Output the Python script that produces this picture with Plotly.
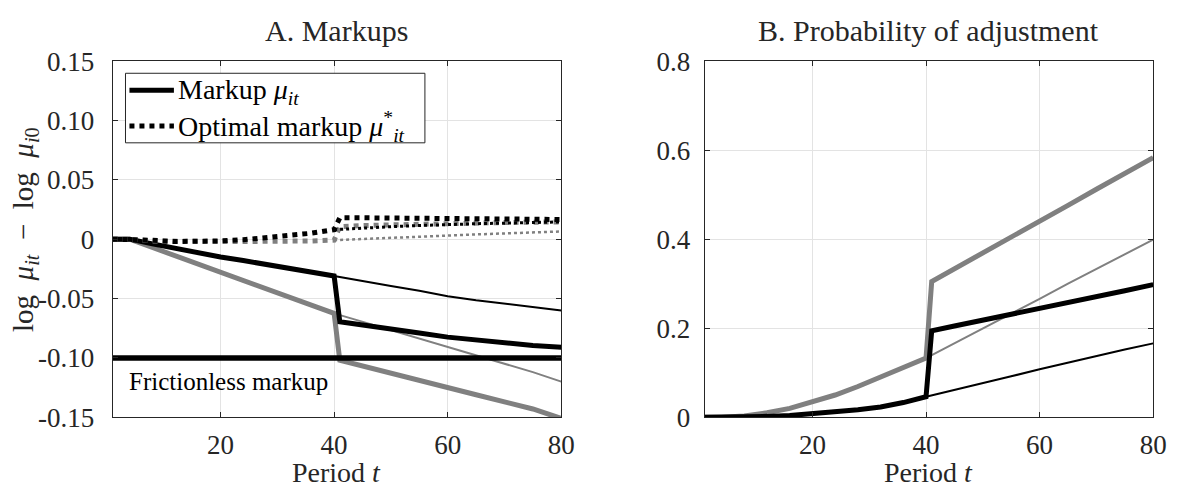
import plotly.graph_objects as go

# ---------------- data ----------------
t_pre = [1, 4, 8, 12, 16, 20, 24, 28, 32, 36, 40]
t_cont = [40, 45, 50, 55, 60, 65, 70, 75, 80]
t_jump = [41, 45, 50, 55, 60, 65, 70, 75, 80]
t_all = [1, 80]

# Panel A: markups (log mu_it - log mu_i0)
frictionless = [-0.10, -0.10]
mk_black_pre = [0, 0, -0.004, -0.008, -0.0115, -0.015, -0.018, -0.021, -0.0245, -0.028, -0.031]
mk_black_thin_post = [-0.031, -0.0355, -0.0395, -0.0435, -0.048, -0.0515, -0.0545, -0.0575, -0.060]
mk_black_thick_post = [-0.0695, -0.0725, -0.0755, -0.079, -0.0825, -0.085, -0.0875, -0.0895, -0.091]
mk_gray_pre = [0, 0, -0.007, -0.0139, -0.0208, -0.0278, -0.0347, -0.0417, -0.0486, -0.0556, -0.0625]
mk_gray_thin_post = [-0.0625, -0.0695, -0.0765, -0.0835, -0.0905, -0.0975, -0.1045, -0.112, -0.120]
mk_gray_thick_post = [-0.102, -0.107, -0.113, -0.119, -0.1256, -0.131, -0.137, -0.143, -0.151]

opt_black_pre = [0, 0, -0.001, -0.002, -0.002, -0.0015, -0.0005, 0.001, 0.003, 0.005, 0.008]
opt_black_thin_post = [0.008, 0.0095, 0.0105, 0.0115, 0.0125, 0.013, 0.0135, 0.014, 0.0145]
opt_black_thick_post = [0.018, 0.018, 0.018, 0.0178, 0.0175, 0.0172, 0.017, 0.0168, 0.0165]
opt_gray_pre = [0, 0, -0.0015, -0.002, -0.002, -0.002, -0.002, -0.002, -0.0018, -0.0015, -0.0008]
opt_gray_thin_post = [-0.0008, 0.0, 0.001, 0.002, 0.003, 0.004, 0.0048, 0.0057, 0.0065]
opt_gray_thick_post = [0.0105, 0.0115, 0.0122, 0.0128, 0.0133, 0.0137, 0.014, 0.0143, 0.0145]

# Panel B: probability of adjustment
pa_black_pre = [0, 0, 0.0005, 0.002, 0.004, 0.008, 0.012, 0.017, 0.023, 0.033, 0.046]
pa_black_thin_post = [0.046, 0.061, 0.076, 0.092, 0.108, 0.123, 0.138, 0.152, 0.166]
pa_black_thick_post = [0.194, 0.205, 0.218, 0.231, 0.243, 0.256, 0.270, 0.284, 0.298]
pa_gray_pre = [0, 0, 0.003, 0.010, 0.020, 0.034, 0.050, 0.069, 0.090, 0.111, 0.133]
pa_gray_thin_post = [0.133, 0.166, 0.200, 0.233, 0.266, 0.300, 0.333, 0.366, 0.399]
pa_gray_thick_post = [0.305, 0.333, 0.369, 0.405, 0.440, 0.476, 0.512, 0.548, 0.583]

yA_ticks = [-0.15, -0.10, -0.05, 0, 0.05, 0.10, 0.15]
yA_text = ["-0.15", "-0.10", "-0.05", "0", "0.05", "0.10", "0.15"]
yB_ticks = [0, 0.2, 0.4, 0.6, 0.8]
yB_text = ["0", "0.2", "0.4", "0.6", "0.8"]
x_ticks = [20, 40, 60, 80]
x_text = ["20", "40", "60", "80"]

legend_labels = ["Markup <i>μ</i><sub><i>it</i></sub>",
                 "Optimal markup <i>μ</i><sup>*</sup><sub><i>it</i></sub>"]

# ---------------- style ----------------
BLACK = "#000000"
GRAY = "#808080"
AX = "#262626"
GRID = "#e3e3e3"
FONT = "Liberation Serif"
W = 1183
H = 499

fig = go.Figure()

def line(x, y, color, width, dash="solid", xa="x", ya="y"):
    fig.add_trace(go.Scatter(x=x, y=y, mode="lines", xaxis=xa, yaxis=ya,
                             line=dict(color=color, width=width, dash=dash),
                             showlegend=False, hoverinfo="skip"))

# Panel A
line(t_cont, mk_gray_thin_post, GRAY, 2)
line(t_pre + t_jump, mk_gray_pre + mk_gray_thick_post, GRAY, 5)
line(t_cont, mk_black_thin_post, BLACK, 2)
line(t_pre + t_jump, mk_black_pre + mk_black_thick_post, BLACK, 5)
line(t_all, frictionless, BLACK, 5.5)
line(t_cont, opt_gray_thin_post, GRAY, 2.5, "dot")
line(t_pre + t_jump, opt_gray_pre + opt_gray_thick_post, GRAY, 5, "dot")
line(t_cont, opt_black_thin_post, BLACK, 3, "dot")
line(t_pre + t_jump, opt_black_pre + opt_black_thick_post, BLACK, 5, "dot")

# Panel B
line(t_cont, pa_gray_thin_post, GRAY, 2, xa="x2", ya="y2")
line(t_pre + t_jump, pa_gray_pre + pa_gray_thick_post, GRAY, 5, xa="x2", ya="y2")
line(t_cont, pa_black_thin_post, BLACK, 2, xa="x2", ya="y2")
line(t_pre + t_jump, pa_black_pre + pa_black_thick_post, BLACK, 5, xa="x2", ya="y2")

def px_x(p):
    return p / W

def px_y(p):
    return 1 - p / H

ydom = [px_y(428), px_y(49)]
axis_common = dict(showline=True, linecolor=AX, linewidth=1, mirror="ticks", ticks="inside",
                   ticklen=5, tickcolor=AX, showgrid=True, gridcolor=GRID, gridwidth=1,
                   zeroline=False, tickfont=dict(family=FONT, size=27, color=AX))

fig.update_layout(
    width=W, height=H,
    margin=dict(l=0, r=0, t=0, b=0),
    paper_bgcolor="white", plot_bgcolor="white",
    font=dict(family=FONT, color=AX),
    xaxis=dict(domain=[px_x(114), px_x(568)], range=[1, 80], tickvals=x_ticks, ticktext=x_text,
               anchor="y", ticklabelstandoff=3, **axis_common),
    yaxis=dict(domain=ydom, range=[-0.15, 0.15], tickvals=yA_ticks, ticktext=yA_text,
               anchor="x", ticklabelstandoff=12, **axis_common),
    xaxis2=dict(domain=[px_x(713), px_x(1167)], range=[1, 80], tickvals=x_ticks, ticktext=x_text,
                anchor="y2", ticklabelstandoff=3, **axis_common),
    yaxis2=dict(domain=ydom, range=[0, 0.8], tickvals=yB_ticks, ticktext=yB_text,
                anchor="x2", ticklabelstandoff=8, **axis_common),
    showlegend=False,
)

# Legend box (upper-left corner of panel A)
fig.add_shape(type="rect", xref="paper", yref="paper",
              x0=px_x(127), x1=px_x(430), y0=px_y(136), y1=px_y(62),
              line=dict(color=AX, width=1), fillcolor="white", layer="above")
for i, (lab, dash) in enumerate(zip(legend_labels, ["solid", "dot"])):
    yc = [80, 118][i]
    fig.add_shape(type="line", xref="paper", yref="paper",
                  x0=px_x(131), x1=px_x(176), y0=px_y(yc), y1=px_y(yc),
                  line=dict(color=BLACK, width=5, dash=dash), layer="above")
    fig.add_annotation(text=lab, x=px_x(178), y=px_y(yc + 1), xref="paper", yref="paper",
                       xanchor="left", yanchor="middle", showarrow=False,
                       font=dict(family=FONT, size=28, color=BLACK))

ann = [
    dict(text="A. Markups", x=px_x(341), y=px_y(16), size=30),
    dict(text="B. Probability of adjustment", x=px_x(940), y=px_y(16), size=30),
    dict(text="Period <i>t</i>", x=px_x(341), y=px_y(487), size=28),
    dict(text="Period <i>t</i>", x=px_x(940), y=px_y(487), size=28),
]
for a in ann:
    fig.add_annotation(text=a["text"], x=a["x"], y=a["y"], xref="paper", yref="paper",
                       xanchor="center", yanchor="middle", showarrow=False,
                       font=dict(family=FONT, size=a["size"], color=AX))

fig.add_annotation(text="log\u2002<i>μ</i><sub><i>it</i></sub>\u2002−\u2002log\u2002<i>μ</i><sub><i>i</i>0</sub>",
                   x=px_x(26), y=px_y(228), xref="paper", yref="paper", textangle=-90,
                   xanchor="center", yanchor="middle", showarrow=False,
                   font=dict(family=FONT, size=29, color=AX))

fig.add_annotation(text="Frictionless markup", x=px_x(129), y=px_y(390), xref="paper", yref="paper",
                   xanchor="left", yanchor="middle", showarrow=False,
                   font=dict(family=FONT, size=25, color=BLACK))

fig.write_html("out.html", config={"displayModeBar": False},
               post_script="document.body.style.margin='0px';document.body.style.overflow='hidden';")
